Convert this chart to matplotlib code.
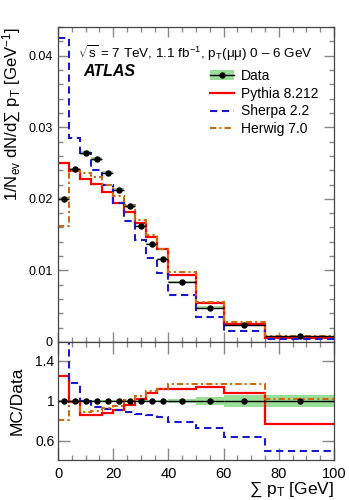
import matplotlib
matplotlib.use("Agg")
import matplotlib.pyplot as plt
from matplotlib.lines import Line2D
from matplotlib.patches import Patch
from matplotlib.ticker import MultipleLocator, FuncFormatter
import numpy as np

plt.rcParams['font.family'] = ['Liberation Sans', 'DejaVu Sans']
plt.rcParams['mathtext.fontset'] = 'custom'
plt.rcParams['mathtext.rm'] = 'Liberation Sans'
plt.rcParams['mathtext.it'] = 'Liberation Sans:italic'
plt.rcParams['mathtext.bf'] = 'Liberation Sans:bold'

# bin edges in sum pT [GeV]
edges = [0, 4, 8, 12, 16, 20, 24, 28, 32, 36, 40, 50, 60, 75, 100]

# data: 1/N dN/dsum(pT) and relative uncertainty
data = [0.0200, 0.0241, 0.02645, 0.0256, 0.02365, 0.0213, 0.01895, 0.01625,
        0.01364, 0.01155, 0.00838, 0.0048, 0.00233, 0.0008]
data_unc = [0.01, 0.01, 0.01, 0.01, 0.01, 0.01, 0.01, 0.01,
            0.01, 0.012, 0.02, 0.04, 0.057, 0.06]

# MC / data ratios
pythia_ratio = [1.25, 0.99, 0.86, 0.86, 0.885, 0.91, 0.96, 1.02,
                1.08, 1.12, 1.12, 1.14, 1.08, 0.77]
sherpa_ratio = [2.12, 1.18, 1.00, 0.94, 0.925, 0.91, 0.89, 0.875,
                0.86, 0.84, 0.79, 0.73, 0.64, 0.50]
herwig_ratio = [0.81, 0.99, 0.89, 0.90, 0.93, 0.955, 1.01, 1.05,
                1.10, 1.12, 1.17, 1.175, 1.175, 1.02]

edges = np.array(edges, dtype=float)
data = np.array(data)
data_unc = np.array(data_unc)
centers = 0.5 * (edges[1:] + edges[:-1])
widths = np.diff(edges)

mcs = [
    ('Pythia 8.212', np.array(pythia_ratio), dict(color='#ff0000', lw=1.6, ls='-')),
    ('Sherpa 2.2', np.array(sherpa_ratio), dict(color='#1a1acc', lw=1.5, ls=(0, (3.5, 2.2)))),
    ('Herwig 7.0', np.array(herwig_ratio), dict(color='#cc6a10', lw=1.5, ls=(0, (3, 1.5, 1, 1.5)))),
]
band_col = '#99dd99'

fig = plt.figure(figsize=(3.49, 5.00), dpi=100)
ax = fig.add_axes([0.1662, 0.316, 0.791, 0.63])
rx = fig.add_axes([0.1662, 0.08, 0.791, 0.236])

# top panel
ax.bar(edges[:-1], 2 * data * data_unc, width=widths, bottom=data * (1 - data_unc),
       align='edge', color=band_col, lw=0, zorder=1)
for name, r, st in mcs:
    ax.stairs(r * data, edges, baseline=None, zorder=2, **st)
ax.errorbar(centers, data, xerr=widths / 2, fmt='o', color='black', ms=3.6,
            elinewidth=1.0, capsize=0, zorder=3)

ax.set_xlim(0, 100)
ax.set_ylim(0, 0.044)
ax.xaxis.set_major_locator(MultipleLocator(20))
ax.xaxis.set_minor_locator(MultipleLocator(5))
ax.yaxis.set_major_locator(MultipleLocator(0.01))
ax.yaxis.set_minor_locator(MultipleLocator(0.002))
ax.yaxis.set_major_formatter(FuncFormatter(lambda v, p: '%g' % round(v, 4)))
ax.tick_params(labelbottom=False)
ax.set_ylabel('1/N$_\\mathrm{ev}$ dN/d\u2211 p$_\\mathrm{T}$ [GeV$^{-1}$]', fontsize=12, loc='top')
ax.yaxis.set_label_coords(-0.126, 1.0)

ax.text(0.072, 0.917, '$\\sqrt{\\mathrm{s}}$ = 7 TeV, 1.1 fb$^{-1}$, p$_\\mathrm{T}$(\u03bc\u03bc) 0 \u2013 6 GeV',
        transform=ax.transAxes, fontsize=9.7, va='center', ha='left')
ax.text(0.09, 0.86, 'ATLAS', transform=ax.transAxes, fontsize=11.5,
        fontweight='bold', fontstyle='italic', va='center', ha='left')

handles = [(Patch(color=band_col, lw=0),
            Line2D([], [], color='black', marker='o', ms=3.6, lw=1.0))]
labels = ['Data']
for name, r, st in mcs:
    handles.append(Line2D([], [], **st))
    labels.append(name)
ax.legend(handles, labels, loc='upper left', bbox_to_anchor=(0.551, 0.867),
          frameon=False, fontsize=10, borderpad=0, borderaxespad=0,
          handlelength=1.75, handletextpad=0.5, labelspacing=0.27)

# ratio panel
rx.bar(edges[:-1], 2 * data_unc, width=widths, bottom=1 - data_unc,
       align='edge', color=band_col, lw=0, zorder=1)
for name, r, st in mcs:
    rx.stairs(r, edges, baseline=None, zorder=2, **st)
rx.errorbar(centers, np.ones_like(data), xerr=widths / 2, fmt='o', color='black',
            ms=3.6, elinewidth=1.0, capsize=0, zorder=3)
rx.set_xlim(0, 100)
rx.set_ylim(0.41, 1.59)
rx.xaxis.set_major_locator(MultipleLocator(20))
rx.xaxis.set_minor_locator(MultipleLocator(5))
rx.set_yticks([0.6, 1.0, 1.4])
rx.yaxis.set_major_formatter(FuncFormatter(lambda v, p: '%g' % round(v, 2)))
rx.set_ylabel('MC/Data', fontsize=12.5)
rx.yaxis.set_label_coords(-0.12, 0.5)
rx.set_xlabel('\u2211 p$_\\mathrm{T}$ [GeV]', fontsize=12.5, loc='right')
rx.xaxis.set_label_coords(1.0, -0.175)

for a in (ax, rx):
    a.tick_params(which='both', direction='in', top=True, right=True, color='#888888')
    a.tick_params(which='major', length=7, width=1.0)
    a.tick_params(which='minor', length=3.6, width=1.0)
    for s in a.spines.values():
        s.set_color('#444444')
        s.set_linewidth(0.9)
ax.tick_params(axis='y', labelsize=9, pad=4)
rx.tick_params(axis='y', labelsize=10, pad=2.5)
rx.tick_params(axis='x', labelsize=10.5, pad=5)
rx.tick_params(which='major', length=8.5)

fig.savefig('out.png', dpi=100)
